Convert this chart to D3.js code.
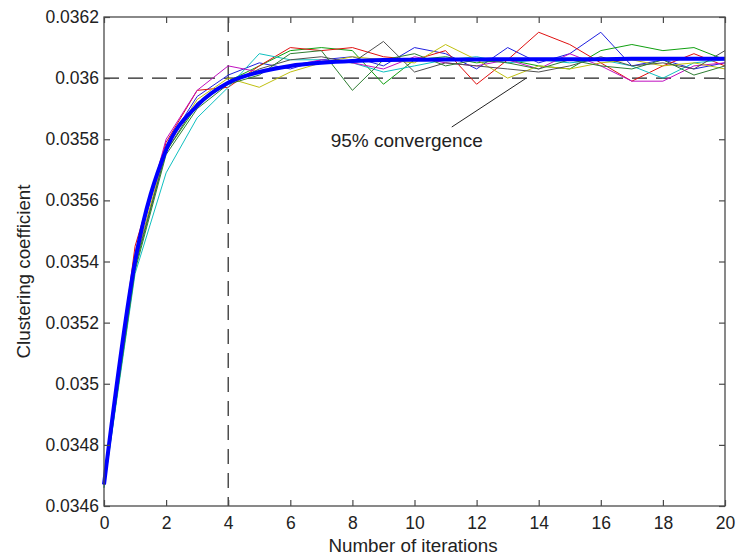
<!DOCTYPE html>
<html>
<head>
<meta charset="utf-8">
<script src="https://cdn.jsdelivr.net/npm/d3@7"></script>
<style>
  body { margin: 0; background: #fff; }
  svg { display: block; font-family: "Liberation Sans", Arial, sans-serif; }
</style>
</head>
<body>
<div id="chart"></div>
<script>
const iterations = d3.range(0, 21);

// individual runs (thin lines)
const runBlue    = [0.03467, 0.03542, 0.03578, 0.03594, 0.03601, 0.03605, 0.03603, 0.03606, 0.03607, 0.03604, 0.03610, 0.03608, 0.03603, 0.03610, 0.03605, 0.03608, 0.03615, 0.03604, 0.03606, 0.03603, 0.03605];
const runGreen   = [0.03466, 0.03538, 0.03576, 0.03591, 0.03599, 0.03604, 0.03609, 0.03610, 0.03609, 0.03598, 0.03606, 0.03607, 0.03605, 0.03606, 0.03604, 0.03603, 0.03609, 0.03611, 0.03609, 0.03610, 0.03606];
const runRed     = [0.03468, 0.03545, 0.03579, 0.03596, 0.03597, 0.03604, 0.03610, 0.03609, 0.03610, 0.03607, 0.03606, 0.03609, 0.03598, 0.03606, 0.03615, 0.03611, 0.03605, 0.03599, 0.03604, 0.03608, 0.03604];
const runCyan    = [0.03466, 0.03536, 0.03569, 0.03587, 0.03597, 0.03608, 0.03606, 0.03606, 0.03605, 0.03602, 0.03604, 0.03606, 0.03607, 0.03605, 0.03606, 0.03605, 0.03606, 0.03604, 0.03600, 0.03605, 0.03606];
const runMagenta = [0.03467, 0.03543, 0.03580, 0.03596, 0.03604, 0.03602, 0.03604, 0.03606, 0.03605, 0.03603, 0.03607, 0.03605, 0.03604, 0.03606, 0.03603, 0.03608, 0.03604, 0.03599, 0.03599, 0.03604, 0.03605];
const runYellow  = [0.03467, 0.03540, 0.03577, 0.03593, 0.03600, 0.03597, 0.03602, 0.03605, 0.03607, 0.03606, 0.03605, 0.03611, 0.03606, 0.03600, 0.03604, 0.03603, 0.03605, 0.03606, 0.03604, 0.03605, 0.03603];
const runGray    = [0.03467, 0.03539, 0.03576, 0.03592, 0.03598, 0.03603, 0.03606, 0.03607, 0.03605, 0.03612, 0.03602, 0.03605, 0.03604, 0.03603, 0.03602, 0.03604, 0.03607, 0.03604, 0.03605, 0.03603, 0.03609];
const runDkGreen = [0.03467, 0.03537, 0.03575, 0.03590, 0.03598, 0.03601, 0.03608, 0.03609, 0.03596, 0.03606, 0.03608, 0.03604, 0.03606, 0.03605, 0.03603, 0.03606, 0.03604, 0.03603, 0.03606, 0.03601, 0.03604];

// average curve (thick blue)
const average = [0.03467, 0.03540, 0.035765, 0.03591, 0.035985, 0.03602, 0.03604, 0.03605, 0.036056, 0.036059, 0.03606, 0.036061, 0.036061, 0.036062, 0.036062, 0.036062, 0.036062, 0.036063, 0.036063, 0.036063, 0.036063];

const runs = [
  { values: runBlue, color: "#2020e0" },
  { values: runGreen, color: "#10a010" },
  { values: runRed, color: "#e01010" },
  { values: runCyan, color: "#10c0c0" },
  { values: runMagenta, color: "#c010c0" },
  { values: runYellow, color: "#c0c010" },
  { values: runGray, color: "#505050" },
  { values: runDkGreen, color: "#2e7d32" }
];

const xTicks = d3.range(0, 21, 2);
const yTicks = [0.0346, 0.0348, 0.035, 0.0352, 0.0354, 0.0356, 0.0358, 0.036, 0.0362];
const convergenceLevel = 0.036;
const convergenceIter = 4;

const width = 739, height = 558;
const margin = { top: 17, right: 14, bottom: 52, left: 104 };

const svg = d3.select("#chart").append("svg")
  .attr("width", width)
  .attr("height", height);

const x = d3.scaleLinear().domain([0, 20]).range([margin.left, width - margin.right]);
const y = d3.scaleLinear().domain([0.0346, 0.0362]).range([height - margin.bottom, margin.top]);

const axisColor = "#4a4a4a";

// reference lines
svg.append("line")
  .attr("x1", x(0)).attr("x2", x(20))
  .attr("y1", y(convergenceLevel)).attr("y2", y(convergenceLevel))
  .attr("stroke", "#222").attr("stroke-width", 1.2)
  .attr("stroke-dasharray", "15,9");

svg.append("line")
  .attr("x1", x(convergenceIter)).attr("x2", x(convergenceIter))
  .attr("y1", y(0.0362)).attr("y2", y(0.0346))
  .attr("stroke", "#222").attr("stroke-width", 1.2)
  .attr("stroke-dasharray", "15,9");

const line = d3.line()
  .x((d, i) => x(iterations[i]))
  .y(d => y(d));

runs.forEach(function(r) {
  svg.append("path")
    .attr("d", line(r.values))
    .attr("fill", "none")
    .attr("stroke", r.color)
    .attr("stroke-width", 1);
});

svg.append("path")
  .attr("d", line.curve(d3.curveMonotoneX)(average))
  .attr("fill", "none")
  .attr("stroke", "#0000ff")
  .attr("stroke-width", 4)
  .attr("stroke-linejoin", "round");

// box
svg.append("rect")
  .attr("x", x(0)).attr("y", y(0.0362))
  .attr("width", x(20) - x(0)).attr("height", y(0.0346) - y(0.0362))
  .attr("fill", "none").attr("stroke", axisColor).attr("stroke-width", 1.3);

const fmt = d => String(+d.toFixed(4));

const xAxis = d3.axisBottom(x).tickValues(xTicks).tickSizeInner(-6).tickSizeOuter(0).tickPadding(11);
const xTop = d3.axisTop(x).tickValues(xTicks).tickSizeInner(-6).tickSizeOuter(0).tickFormat("");
const yAxis = d3.axisLeft(y).tickValues(yTicks).tickSizeInner(-6).tickSizeOuter(0).tickPadding(5).tickFormat(fmt);
const yRight = d3.axisRight(y).tickValues(yTicks).tickSizeInner(-6).tickSizeOuter(0).tickFormat("");

function styleAxis(g) {
  g.select(".domain").remove();
  g.selectAll(".tick line").attr("stroke", axisColor).attr("stroke-width", 1.2);
  g.selectAll(".tick text").attr("fill", "#222").attr("font-size", 17.5)
    .attr("font-family", "'Liberation Sans', Arial, sans-serif");
}

svg.append("g").attr("transform", `translate(0,${y(0.0346)})`).call(xAxis).call(styleAxis);
svg.append("g").attr("transform", `translate(0,${y(0.0362)})`).call(xTop).call(styleAxis);
svg.append("g").attr("transform", `translate(${x(0)},0)`).call(yAxis).call(styleAxis);
svg.append("g").attr("transform", `translate(${x(20)},0)`).call(yRight).call(styleAxis);

// axis titles
svg.append("text")
  .attr("x", 413).attr("y", 552)
  .attr("text-anchor", "middle").attr("font-size", 18.8).attr("fill", "#222")
  .text("Number of iterations");

svg.append("text")
  .attr("transform", `translate(30,${(y(0.0346) + y(0.0362)) / 2 + 10}) rotate(-90)`)
  .attr("text-anchor", "middle").attr("font-size", 18.8).attr("fill", "#222")
  .text("Clustering coefficient");

// annotation
svg.append("line")
  .attr("x1", x(11.2)).attr("y1", y(0.03584))
  .attr("x2", x(13.6)).attr("y2", y(0.036))
  .attr("stroke", "#222").attr("stroke-width", 1);

svg.append("text")
  .attr("x", x(7.3)).attr("y", y(0.035775))
  .attr("font-size", 19).attr("fill", "#222")
  .text("95% convergence");
</script>
</body>
</html>
